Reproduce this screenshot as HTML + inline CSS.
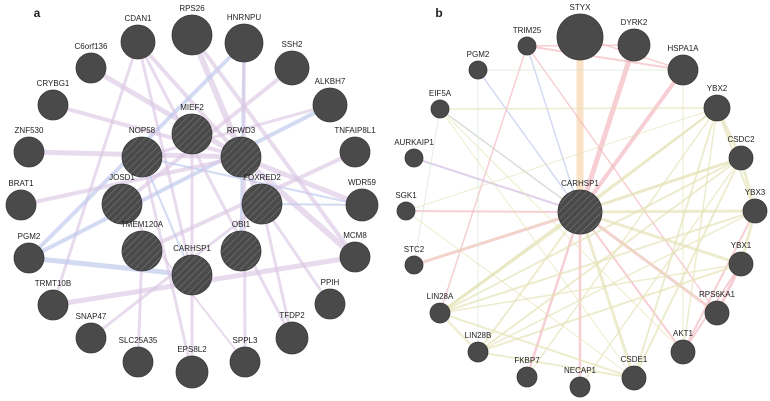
<!DOCTYPE html>
<html><head><meta charset="utf-8"><style>
html,body{margin:0;padding:0;background:#fff;width:770px;height:401px;overflow:hidden}
svg{display:block}
text{font-family:"Liberation Sans",sans-serif;font-size:8.5px;fill:#222;text-anchor:middle}
</style></head><body>
<svg id="s" width="770" height="401" xmlns="http://www.w3.org/2000/svg">
<defs>
<pattern id="h" width="5" height="5" patternUnits="userSpaceOnUse" patternTransform="rotate(45)">
<rect width="5" height="5" fill="#4a4a4a"/><line x1="0" y1="0" x2="0" y2="5" stroke="#777" stroke-width="1.2"/>
</pattern>
</defs>
<g id="e"></g><g id="n"></g>
<text x="37" y="17" style="font-size:12px;font-weight:bold">a</text>
<text x="439" y="17" style="font-size:12px;font-weight:bold">b</text>
</svg>
<script>
var A={RPS26:[192,35,20],CDAN1:[138,42,17],HNRNPU:[244,43,19],C6orf136:[91,68,15],SSH2:[292,68,17],CRYBG1:[53,105,15],ALKBH7:[330,105,17],MIEF2:[192,134,20,1],NOP58:[142,157,20,1],RFWD3:[241,157,20,1],ZNF530:[29,152,15],TNFAIP8L1:[355,152,15],BRAT1:[21,205,15],WDR59:[362,205,16],JOSD1:[122,204,20,1],FOXRED2:[262,204,20,1],PGM2:[29,258,15],MCM8:[355,257,15],TMEM120A:[142,251,20,1],OBI1:[241,251,20,1],CARHSP1:[192,275,20,1],TRMT10B:[53,305,15],PPIH:[330,304,15],SNAP47:[91,338,15],TFDP2:[292,338,16],SLC25A35:[138,362,15],EPS8L2:[192,372,16],SPPL3:[245,362,15]};
var B={STYX:[580,37,23],TRIM25:[527,46,9],DYRK2:[634,45,16],PGM2:[478,70,9],HSPA1A:[683,70,15],EIF5A:[440,109,9],YBX2:[717,108,13],AURKAIP1:[414,158,9],CSDC2:[741,158,12],CARHSP1:[580,212,22,1],SGK1:[406,211,9],YBX3:[755,211,12],STC2:[414,265,9],YBX1:[741,264,12],LIN28A:[440,313,10],RPS6KA1:[717,313,12],LIN28B:[478,352,10],AKT1:[683,352,12],FKBP7:[527,377,10],NECAP1:[580,387,10],CSDE1:[634,378,12]};
var P="#dcc8e4",Bl="#bcc8ec",Y="#e4e2b4",Pk="#f2b4bc",O="#f7d2a8",G="#cfe4cf";
var EA=[["CDAN1","RFWD3",P,4],["CDAN1","CARHSP1",P,3],["CDAN1","TRMT10B",P,3],["C6orf136","RFWD3",P,5],["RPS26","FOXRED2",P,6],["HNRNPU","PGM2",Bl,4],["HNRNPU","OBI1",Bl,3],["SSH2","JOSD1",P,4],["ALKBH7","PGM2",Bl,4],["CRYBG1","RFWD3",P,4],["ZNF530","RFWD3",P,5],["BRAT1","RFWD3",P,4],["RFWD3","WDR59",P,5],["RFWD3","MCM8",P,6],["NOP58","WDR59",Bl,2],["FOXRED2","WDR59",Bl,2],["FOXRED2","PPIH",P,3],["FOXRED2","TFDP2",P,3],["PGM2","CARHSP1",Bl,5],["TRMT10B","MCM8",P,5],["TNFAIP8L1","TMEM120A",P,4],["NOP58","EPS8L2",P,3],["TMEM120A","SLC25A35",P,3],["SNAP47","FOXRED2",P,3],["MIEF2","EPS8L2",P,3],["HNRNPU","SPPL3",P,3],["NOP58","CARHSP1",Bl,2],["CDAN1","TFDP2",P,3],["RPS26","MCM8",P,4],["JOSD1","SPPL3",P,2],["NOP58","ALKBH7",P,3]];
var EB=[["STYX","CARHSP1",O,7],["DYRK2","CARHSP1",Pk,5],["HSPA1A","CARHSP1",Pk,4],["TRIM25","HSPA1A",Pk,2],["TRIM25","CARHSP1",Bl,1.5],["PGM2","CARHSP1",Bl,1.5],["EIF5A","CARHSP1",Bl,1.5],["AURKAIP1","CARHSP1","#d0b8e0",2],["SGK1","CARHSP1",Pk,2],["STC2","CARHSP1",Pk,3],["TRIM25","LIN28A",Pk,1.5],["CARHSP1","FKBP7",Pk,2.5],["CARHSP1","NECAP1",Pk,2.5],["CARHSP1","RPS6KA1",Pk,3],["CARHSP1","AKT1",Pk,2],["RPS6KA1","YBX1",Pk,3],["AKT1","YBX1",Pk,2],["AKT1","YBX3",Pk,2],["TRIM25","RPS6KA1",Pk,1.5],["PGM2","HSPA1A",G,1],["EIF5A","YBX2",Y,1.5],["PGM2","LIN28B",G,1],["EIF5A","STC2",G,1],
["YBX2","CARHSP1",Y,2],["CSDC2","CARHSP1",Y,3],["YBX3","CARHSP1",Y,3],["YBX1","CARHSP1",Y,3],["LIN28A","CARHSP1",Y,3],["LIN28B","CARHSP1",Y,2],["CSDE1","CARHSP1",Y,3],["YBX2","LIN28A",Y,2],["CSDC2","LIN28A",Y,2],["YBX3","LIN28A",Y,2],["YBX1","LIN28B",Y,2],["CSDC2","LIN28B",Y,2],["YBX2","CSDE1",Y,2],["CSDC2","CSDE1",Y,2],["YBX2","CSDC2",Y,3],["CSDC2","YBX3",Y,3],["YBX3","YBX1",Y,3],["YBX2","YBX3",Y,2],["LIN28A","CSDE1",Y,2],["LIN28B","CSDE1",Y,2],["LIN28A","LIN28B",Y,2],["SGK1","CSDE1",Y,1],["EIF5A","CSDE1",Y,1],["EIF5A","AKT1",Y,1],["SGK1","YBX2",Y,1],["STC2","CSDC2",Y,1],["YBX2","FKBP7",Y,1.5],["CSDC2","NECAP1",Y,1.5],["YBX3","LIN28B",Y,1.5],["YBX1","LIN28A",Y,1.5],["HSPA1A","AKT1",Y,1],["STYX","HSPA1A",Pk,1.5],["TRIM25","DYRK2",Pk,1.5],["YBX2","AKT1",Y,1.5],["EIF5A","RPS6KA1",Y,1]];
var e=document.getElementById("e"),n=document.getElementById("n"),NS="http://www.w3.org/2000/svg";
function mk(t,a,p){var el=document.createElementNS(NS,t);for(var k in a)el.setAttribute(k,a[k]);p.appendChild(el);return el}
function edges(M,E){E.forEach(function(x){var a=M[x[0]],b=M[x[1]];mk("line",{x1:a[0],y1:a[1],x2:b[0],y2:b[1],stroke:x[2],"stroke-width":x[3],"stroke-opacity":0.65},e)})}
function nodes(M,fs){for(var k in M){var v=M[k];mk("circle",{cx:v[0],cy:v[1],r:v[2],fill:v[3]?"url(#h)":"#4a4a4a",stroke:"#3a3a3a","stroke-width":0.8},n);var t=mk("text",{x:v[0],y:v[1]-v[2]-4,style:"font-size:"+fs+"px"},n);t.textContent=k}}
edges(A,EA);edges(B,EB);nodes(A,8);nodes(B,8);
</script>
</body></html>
